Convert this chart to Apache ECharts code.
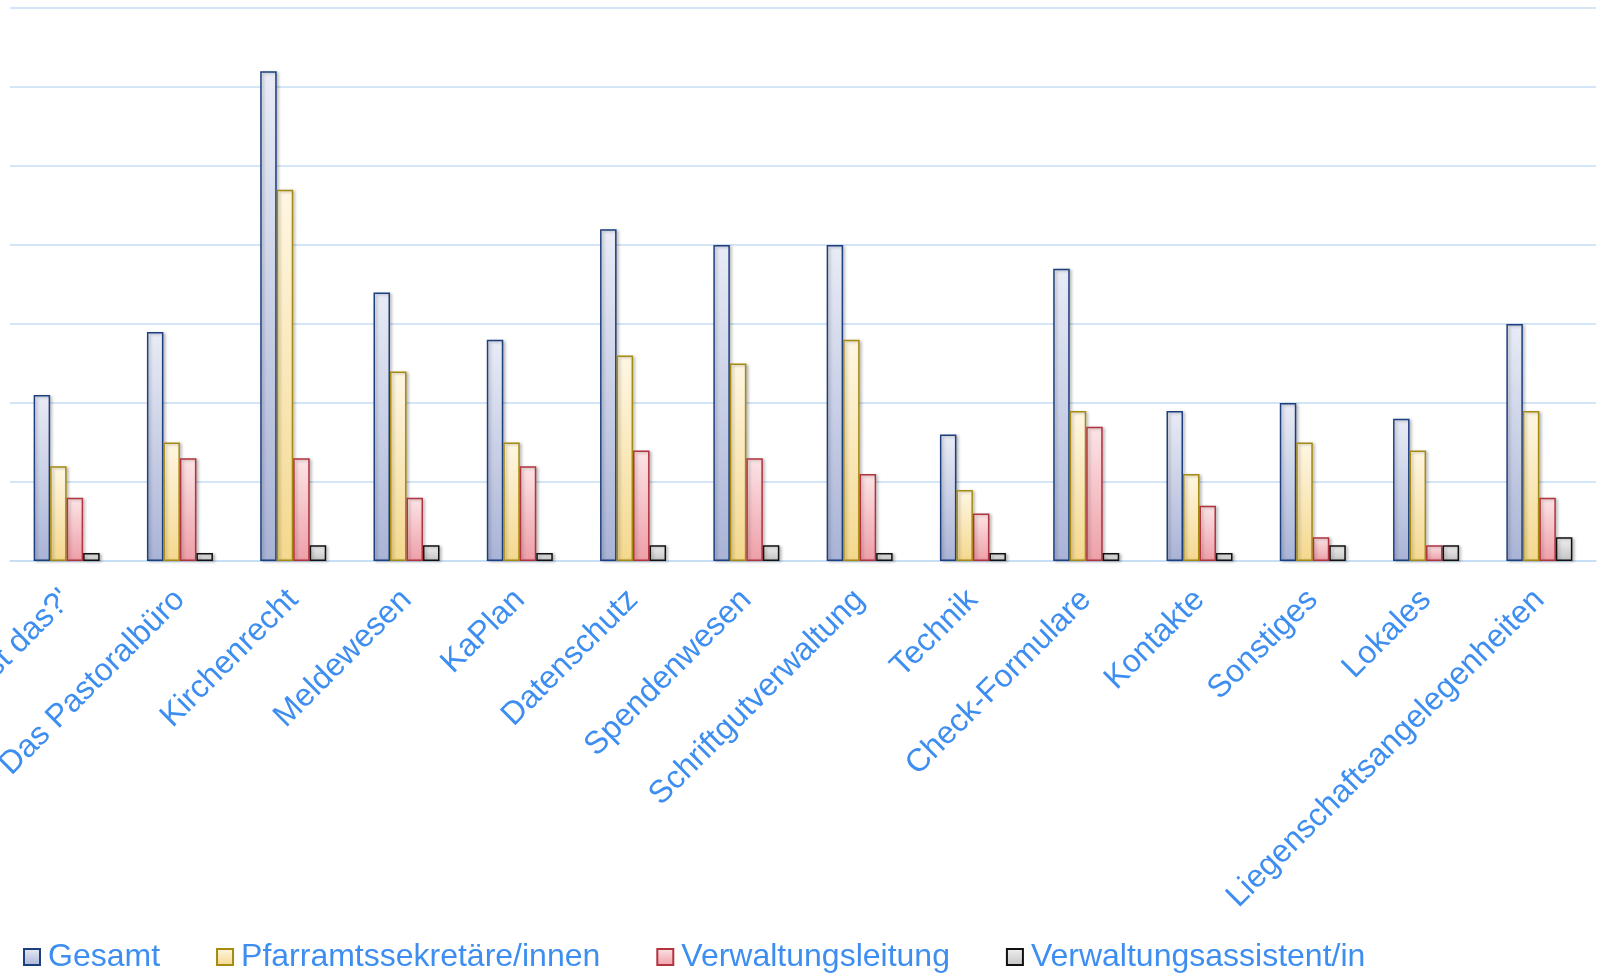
<!DOCTYPE html>
<html>
<head>
<meta charset="utf-8">
<script src="https://cdn.jsdelivr.net/npm/echarts@6/dist/echarts.min.js"></script>
<style>
html,body{margin:0;padding:0;background:#fff;}
#chart{width:1600px;height:973px;}
</style>
</head>
<body>
<div id="chart"></div>
<script>
const categories = ["'Was ist das?'", "Das Pastoralbüro", "Kirchenrecht", "Meldewesen", "KaPlan", "Datenschutz", "Spendenwesen", "Schriftgutverwaltung", "Technik", "Check-Formulare", "Kontakte", "Sonstiges", "Lokales", "Liegenschaftsangelegenheiten"];
const seriesNames = ["Gesamt", "Pfarramtssekretäre/innen", "Verwaltungsleitung", "Verwaltungsassistent/in"];
const gesamt = [21, 29, 62, 34, 28, 42, 40, 40, 16, 37, 19, 20, 18, 30];
const pfarramt = [12, 15, 47, 24, 15, 26, 25, 28, 9, 19, 11, 15, 14, 19];
const verwaltungsleitung = [8, 13, 13, 8, 12, 14, 13, 11, 6, 17, 7, 3, 2, 8];
const verwaltungsassistent = [1, 1, 2, 2, 1, 2, 2, 1, 1, 1, 1, 2, 2, 3];
const seriesData = [gesamt, pfarramt, verwaltungsleitung, verwaltungsassistent];

const styles = [
  {top: '#e9ecf6', bottom: '#a9b3d6', border: '#1c3f80'},
  {top: '#fff7e4', bottom: '#f4d88e', border: '#a58c10'},
  {top: '#fce4e6', bottom: '#ee9fa8', border: '#b3333f'},
  {top: '#f0f0f0', bottom: '#c4c4c4', border: '#111111'}
];

const labelColor = '#3d8ef0';
const fontFam = 'Liberation Sans, Arial, sans-serif';
const chart = echarts.init(document.getElementById('chart'));
chart.setOption({
  animation: false,
  backgroundColor: '#ffffff',
  textStyle: {fontFamily: fontFam},
  grid: {left: 10, right: 4, top: 8, bottom: 412, containLabel: false, outerBoundsMode: 'none'},
  legend: {
    left: 23, top: 941, padding: 0,
    itemWidth: 16, itemHeight: 16, itemGap: 56,
    icon: 'rect',
    textStyle: {color: labelColor, fontSize: 32, padding: [0, 0, 0, 3], fontFamily: fontFam},
    data: seriesNames
  },
  xAxis: {
    type: 'category',
    data: categories,
    axisLine: {show: true, lineStyle: {color: '#c5dcf5', width: 1.5}},
    axisTick: {show: false},
    axisLabel: {rotate: 45, color: labelColor, fontSize: 32, margin: 34, padding: [13, 0, 0, 0], interval: 0, fontFamily: fontFam}
  },
  yAxis: {
    type: 'value', min: 0, max: 70, interval: 10,
    axisLabel: {show: false}, axisLine: {show: false}, axisTick: {show: false},
    splitLine: {lineStyle: {color: '#c5dcf5', width: 1.5}}
  },
  series: seriesNames.map((name, i) => ({
    name: name,
    type: 'bar',
    data: seriesData[i],
    barWidth: 16.5,
    barGap: '0%',
    itemStyle: {
      color: new echarts.graphic.LinearGradient(0, 0, 0, 1, [
        {offset: 0, color: styles[i].top},
        {offset: 1, color: styles[i].bottom}
      ]),
      borderColor: styles[i].border,
      borderWidth: 1.5,
      shadowColor: 'rgba(0,0,0,0.25)',
      shadowBlur: 3,
      shadowOffsetX: 2,
      shadowOffsetY: 1
    }
  }))
});
</script>
</body>
</html>
